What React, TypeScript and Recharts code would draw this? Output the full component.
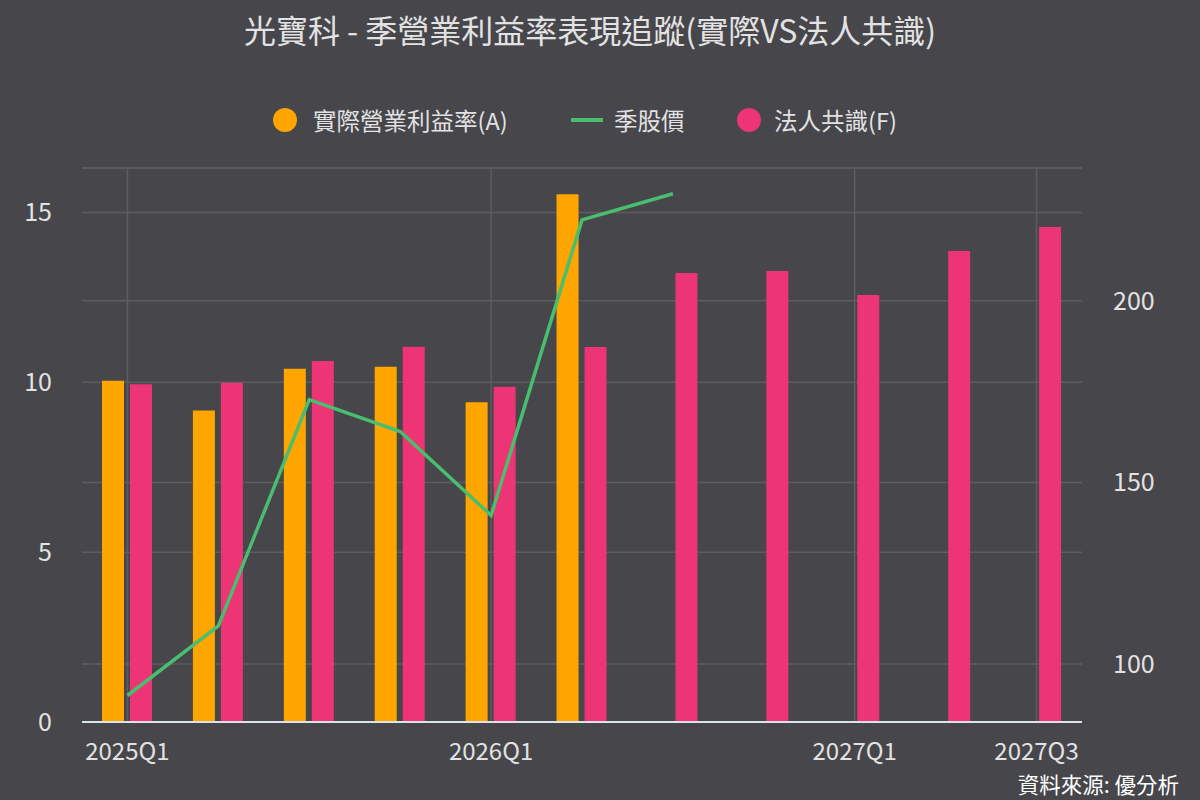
import React from 'react';
import {
  ComposedChart,
  Bar,
  Line,
  XAxis,
  YAxis,
  CartesianGrid,
} from 'recharts';

// 季度
const quarters = [
  '2025Q1', '2025Q2', '2025Q3', '2025Q4',
  '2026Q1', '2026Q2', '2026Q3', '2026Q4',
  '2027Q1', '2027Q2', '2027Q3',
];
// 實際營業利益率(A)
const actualMargin = [10.05, 9.17, 10.4, 10.46, 9.41, 15.54, null, null, null, null, null];
// 法人共識(F)
const consensusMargin = [9.94, 9.99, 10.63, 11.05, 9.87, 11.04, 13.22, 13.28, 12.57, 13.87, 14.57];
// 季股價
const quarterPrice = [91.3, 110.5, 172.8, 164.0, 140.9, 222.3, 229.5, null, null, null, null];

const shownQuarters = ['2025Q1', '2026Q1', '2027Q1', '2027Q3'];
const leftTicks = [0, 5, 10, 15];
const rightTicks = [100, 150, 200];

const data = quarters.map((q, i) => ({
  quarter: q,
  actual: actualMargin[i],
  consensus: consensusMargin[i],
  price: quarterPrice[i],
}));

const FONT = '"Noto Sans CJK TC", "Noto Sans", sans-serif';
const BG = '#46464b';
const TEXT = '#e2e2e2';
const GRID = '#5c5c61';
const ORANGE = '#ffa500';
const PINK = '#ed3475';
const GREEN = '#48be6e';

const XTick = ({ x, y, payload }: any) => {
  if (!shownQuarters.includes(payload.value)) return <g />;
  return (
    <text x={x} y={y} dy="0.71em" textAnchor="middle" fill={TEXT} fontSize={24} fontFamily={FONT}>
      {payload.value}
    </text>
  );
};

// 垂直格線只畫在有標籤的季度（類別中心）
const verticalLines = ({ offset }: any) => {
  const band = offset.width / quarters.length;
  return shownQuarters.map((q) => offset.left + (quarters.indexOf(q) + 0.5) * band);
};

const legendText: React.CSSProperties = {
  position: 'absolute',
  top: 104,
  fontSize: 23.5,
  lineHeight: '32px',
  color: TEXT,
  whiteSpace: 'nowrap',
};

const dot = (left: number, color: string): React.CSSProperties => ({
  position: 'absolute',
  left,
  top: 108,
  width: 24,
  height: 24,
  borderRadius: 12,
  background: color,
});

export default function App() {
  return (
    <div style={{ position: 'relative', width: 1200, height: 800, background: BG, fontFamily: FONT }}>
      <style>{'body{margin:0}'}</style>

      {/* 標題 */}
      <div
        style={{
          position: 'absolute',
          top: 6,
          left: 0,
          width: 1180,
          textAlign: 'center',
          fontSize: 32,
          color: TEXT,
          whiteSpace: 'nowrap',
        }}
      >
        光寶科 - 季營業利益率表現追蹤(實際VS法人共識)
      </div>

      {/* 圖例 */}
      <div style={dot(273, ORANGE)} />
      <div style={{ ...legendText, left: 313 }}>實際營業利益率(A)</div>
      <div style={{ position: 'absolute', left: 571, top: 118, width: 32, height: 4, background: GREEN }} />
      <div style={{ ...legendText, left: 614 }}>季股價</div>
      <div style={dot(737, PINK)} />
      <div style={{ ...legendText, left: 774 }}>法人共識(F)</div>

      <div style={{ position: 'absolute', top: 0, left: 0 }}>
        <ComposedChart
          width={1200}
          height={800}
          data={data}
          margin={{ top: 168, right: 0, bottom: 0, left: 0 }}
          barSize={22}
          barGap={6}
        >
          <CartesianGrid
            yAxisId="left"
            stroke={GRID}
            strokeWidth={1.5}
            horizontal
            vertical
            verticalCoordinatesGenerator={verticalLines}
          />
          <CartesianGrid yAxisId="right" stroke={GRID} strokeWidth={1.5} horizontal vertical={false} />
          <XAxis
            dataKey="quarter"
            height={78}
            interval={0}
            tick={<XTick />}
            tickLine={false}
            tickSize={0}
            tickMargin={21}
            axisLine={{ stroke: '#dce3ea', strokeWidth: 2 }}
          />
          <YAxis
            yAxisId="left"
            orientation="left"
            width={82}
            type="number"
            domain={[0, 16.31]}
            ticks={leftTicks}
            axisLine={false}
            tickLine={false}
            tickSize={0}
            tickMargin={30}
            tick={{ fill: TEXT, fontSize: 25, fontFamily: FONT }}
          />
          <YAxis
            yAxisId="right"
            orientation="right"
            width={118}
            type="number"
            domain={[84, 236.6]}
            ticks={rightTicks}
            axisLine={false}
            tickLine={false}
            tickSize={0}
            tickMargin={31}
            tick={{ fill: TEXT, fontSize: 25, fontFamily: FONT }}
          />
          <Bar yAxisId="left" dataKey="actual" fill={ORANGE} isAnimationActive={false} />
          <Bar yAxisId="left" dataKey="consensus" fill={PINK} isAnimationActive={false} />
          <Line
            yAxisId="right"
            dataKey="price"
            type="linear"
            stroke={GREEN}
            strokeWidth={3.5}
            dot={false}
            activeDot={false}
            isAnimationActive={false}
          />
        </ComposedChart>
      </div>

      {/* 資料來源 */}
      <div style={{ position: 'absolute', right: 21, top: 768, fontSize: 21.5, color: '#ffffff', whiteSpace: 'nowrap' }}>
        資料來源: 優分析
      </div>
    </div>
  );
}
